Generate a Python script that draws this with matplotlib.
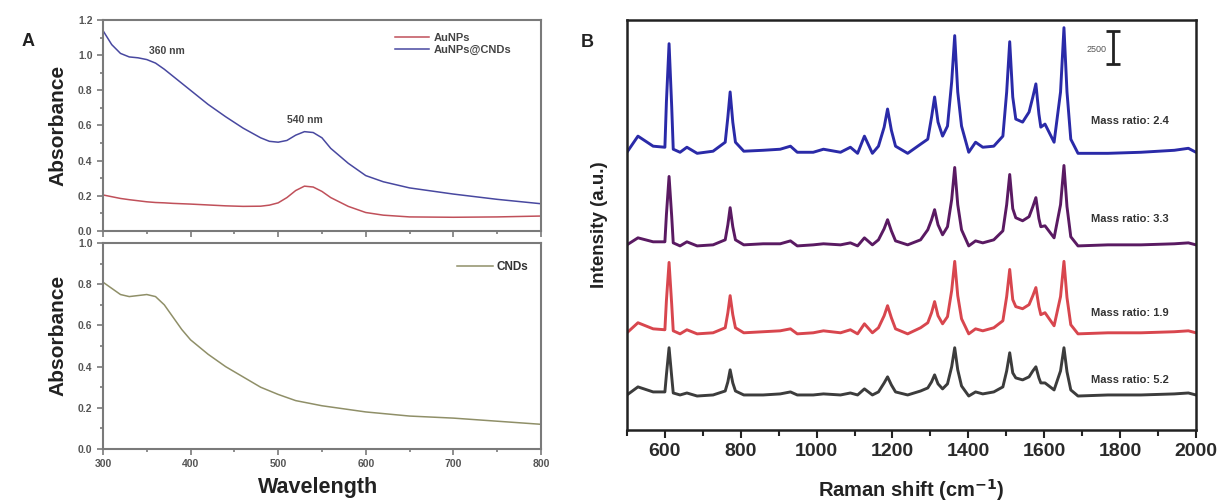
import matplotlib
matplotlib.use('Agg')
import matplotlib.pyplot as plt
from matplotlib.ticker import MultipleLocator

plt.rcParams['font.family'] = ['Liberation Sans', 'DejaVu Sans']

# ---- panel A: UV-vis ----
wl = [300, 310, 320, 330, 340, 350, 360, 370, 380, 390, 400, 420, 440, 460, 480,
      490, 500, 510, 520, 530, 540, 550, 560, 580, 600, 620, 650, 700, 750, 800]
aunps = [0.205, 0.195, 0.185, 0.178, 0.172, 0.166, 0.162, 0.160, 0.157, 0.155, 0.153,
         0.148, 0.143, 0.140, 0.141, 0.147, 0.160, 0.190, 0.230, 0.255, 0.250, 0.225,
         0.190, 0.140, 0.105, 0.090, 0.080, 0.078, 0.080, 0.085]
aunps_cnds = [1.14, 1.06, 1.01, 0.99, 0.985, 0.975, 0.955, 0.92, 0.88, 0.84, 0.80,
              0.72, 0.65, 0.585, 0.53, 0.51, 0.505, 0.515, 0.545, 0.565, 0.56, 0.53,
              0.47, 0.385, 0.315, 0.28, 0.245, 0.21, 0.18, 0.155]

wl_cnds = [300, 310, 320, 330, 340, 350, 360, 370, 380, 390, 400, 420, 440, 460, 480,
           500, 520, 550, 600, 650, 700, 750, 800]
cnds = [0.81, 0.78, 0.75, 0.74, 0.745, 0.75, 0.74, 0.70, 0.64, 0.58, 0.53, 0.46, 0.40,
        0.35, 0.30, 0.265, 0.235, 0.21, 0.18, 0.16, 0.15, 0.135, 0.12]

# ---- panel B: Raman (counts above each trace's own baseline) ----
shift = [500, 529, 569, 600, 604, 611, 618, 622, 640, 658, 685, 727, 759, 766, 772,
         779, 786, 808, 859, 904, 931, 949, 991, 1018, 1063, 1089, 1108, 1126, 1147,
         1163, 1178, 1187, 1197, 1208, 1240, 1274, 1293, 1303, 1311, 1320, 1332, 1345,
         1356, 1364, 1372, 1382, 1401, 1419, 1438, 1467, 1491, 1501, 1509, 1517, 1525,
         1543, 1560, 1570, 1578, 1586, 1591, 1602, 1626, 1643, 1652, 1660, 1670, 1689,
         1768, 1855, 1943, 1980, 2000]
ratio_24 = [0, 1220, 460, 380, 3800, 8210, 3420, 230, 0, 380, -80, 80, 760, 2660, 4560,
            2280, 760, 80, 150, 230, 460, 0, 0, 230, 0, 380, -80, 1220, -80, 460, 1900,
            3270, 1670, 460, -80, 610, 990, 2660, 4180, 2280, 1220, 1980, 5320, 8820,
            4560, 1980, 0, 760, 380, 460, 1220, 4560, 8360, 4180, 2510, 2280, 3040, 4180,
            5170, 2890, 1900, 2130, 760, 4560, 9420, 4560, 990, -80, -80, 0, 150, 300, 0]
ratio_33 = [0, 530, 230, 230, 2280, 5170, 2130, 150, -80, 230, -80, 0, 380, 1520, 2810,
            1370, 380, 0, 80, 80, 300, -80, 0, 80, 0, 150, -80, 530, 0, 380, 1220, 1900,
            1060, 300, 0, 380, 1140, 1900, 2660, 1520, 760, 1370, 3420, 5850, 3040, 1140,
            -80, 300, 150, 380, 1060, 3040, 5320, 2740, 2050, 1820, 2130, 2890, 3570, 1980,
            1370, 1440, 530, 3040, 6000, 2890, 610, -80, 0, 0, 80, 150, 0]
ratio_19 = [0, 760, 300, 230, 2430, 5320, 2130, 150, -80, 230, -80, 0, 380, 1520, 2810,
            1370, 380, 0, 80, 150, 300, -80, 0, 150, 0, 230, -80, 680, 0, 380, 1290, 2050,
            1140, 300, -80, 380, 760, 1520, 2360, 1290, 680, 1220, 3190, 5400, 2810, 1060,
            -80, 300, 150, 380, 910, 2740, 4790, 2510, 1980, 1820, 2130, 2810, 3420, 1980,
            1370, 1520, 530, 2740, 5400, 2660, 610, -80, 0, 0, 80, 150, 0]
ratio_52 = [0, 610, 230, 230, 1520, 3570, 1370, 150, 0, 150, -80, 0, 300, 990, 1900, 910,
            300, 0, 0, 80, 230, 0, 0, 80, 0, 150, 0, 460, 0, 230, 910, 1370, 760, 230, 0,
            300, 530, 990, 1520, 840, 460, 840, 2130, 3570, 1900, 680, -80, 230, 80, 230,
            610, 1820, 3190, 1670, 1290, 1140, 1370, 1820, 2130, 1290, 910, 910, 380, 1820,
            3570, 1750, 380, -80, 0, 0, 80, 150, 0]
labels = ['Mass ratio: 2.4', 'Mass ratio: 3.3', 'Mass ratio: 1.9', 'Mass ratio: 5.2']

fig = plt.figure(figsize=(12.2, 5.04), dpi=100)

tick_grey = '#555555'
spine_grey = '#7a7a7a'


def style_uv(ax):
    for s in ax.spines.values():
        s.set_color(spine_grey)
        s.set_linewidth(1.5)
    ax.set_xlim(300, 800)
    ax.xaxis.set_major_locator(MultipleLocator(100))
    ax.xaxis.set_minor_locator(MultipleLocator(50))
    ax.yaxis.set_major_locator(MultipleLocator(0.2))
    ax.yaxis.set_minor_locator(MultipleLocator(0.1))
    ax.tick_params(which='both', direction='out', color=spine_grey, width=1.2,
                   labelsize=7.5, labelcolor=tick_grey)
    ax.tick_params(which='major', length=4)
    ax.tick_params(which='minor', length=2)
    for t in ax.get_xticklabels() + ax.get_yticklabels():
        t.set_fontweight('bold')


ax1 = fig.add_axes([0.0844, 0.5417, 0.359, 0.4186])
ax1.plot(wl, aunps, color='#c0505a', lw=1.1, label='AuNPs')
ax1.plot(wl, aunps_cnds, color='#4848a0', lw=1.1, label='AuNPs@CNDs')
ax1.set_ylim(0, 1.2)
style_uv(ax1)
ax1.tick_params(axis='x', labelbottom=False)
ax1.set_yticks([0, 0.2, 0.4, 0.6, 0.8, 1.0, 1.2])
ax1.set_yticklabels(['0.0', '0.2', '0.4', '0.6', '0.8', '1.0', '1.2'], fontweight='bold')
leg = ax1.legend(loc='upper left', bbox_to_anchor=(0.645, 0.985), frameon=False,
                 handlelength=3.0, handletextpad=0.4, labelspacing=0.15,
                 prop={'size': 8, 'weight': 'bold'})
for t in leg.get_texts():
    t.set_color('#444444')
ax1.text(373, 1.025, '360 nm', ha='center', va='center', fontsize=7.5,
         fontweight='bold', color='#444444')
ax1.text(530, 0.63, '540 nm', ha='center', va='center', fontsize=7.5,
         fontweight='bold', color='#444444')
fig.text(0.0475, 0.752, 'Absorbance', rotation=90, ha='center', va='center',
         fontsize=15, fontweight='bold', color='#222222')

ax2 = fig.add_axes([0.0844, 0.1091, 0.359, 0.4087])
ax2.plot(wl_cnds, cnds, color='#8f8f68', lw=1.1, label='CNDs')
ax2.set_ylim(0, 1.0)
style_uv(ax2)
ax2.set_yticks([0, 0.2, 0.4, 0.6, 0.8, 1.0])
ax2.set_yticklabels(['0.0', '0.2', '0.4', '0.6', '0.8', '1.0'], fontweight='bold')
leg2 = ax2.legend(loc='upper left', bbox_to_anchor=(0.785, 0.965), frameon=False,
                  handlelength=3.0, handletextpad=0.3,
                  prop={'size': 8.5, 'weight': 'bold'})
for t in leg2.get_texts():
    t.set_color('#333333')
fig.text(0.0475, 0.335, 'Absorbance', rotation=90, ha='center', va='center',
         fontsize=15, fontweight='bold', color='#222222')
fig.text(0.261, 0.032, 'Wavelength', ha='center', va='center',
         fontsize=15.5, fontweight='bold', color='#222222')
fig.text(0.023, 0.917, 'A', ha='center', va='center', fontsize=13,
         fontweight='bold', color='#222222')

# ---- panel B ----
ax3 = fig.add_axes([0.5139, 0.1468, 0.4664, 0.8135])
series = [ratio_24, ratio_33, ratio_19, ratio_52]
colors = ['#2a2aa8', '#5a1a62', '#d8464e', '#3c3c3c']
offsets = [21000, 14000, 7350, 2650]
label_y = [23350, 15920, 8870, 3790]
for vals, c, off, lab, ly in zip(series, colors, offsets, labels, label_y):
    ax3.plot(shift, [v + off for v in vals], color=c, lw=2.1,
             solid_joinstyle='round')
    ax3.text(1723, ly, lab, ha='left', va='center', fontsize=8, fontweight='bold',
             color='#333333')

ax3.set_xlim(500, 2000)
ax3.set_ylim(0, 31000)
ax3.set_yticks([])
ax3.xaxis.set_major_locator(MultipleLocator(200))
ax3.xaxis.set_minor_locator(MultipleLocator(100))
ax3.set_xticks(range(600, 2001, 200))
ax3.tick_params(which='both', direction='out', width=1.5, color='#222222',
                labelsize=14, labelcolor='#2a2a2a')
ax3.tick_params(which='major', length=6)
ax3.tick_params(which='minor', length=4)
for t in ax3.get_xticklabels():
    t.set_fontweight('bold')
for s in ax3.spines.values():
    s.set_linewidth(1.8)
    s.set_color('#222222')
ax3.set_xlabel('Raman shift (cm$^{\\mathbf{-1}}$)', fontsize=14.5, fontweight='bold',
               color='#222222', labelpad=12)
ax3.set_ylabel('Intensity (a.u.)', fontsize=13.5, fontweight='bold',
               color='#222222', labelpad=14)

# 2500 counts scale bar
ax3.errorbar([1781], [28920], yerr=[1250], color='#222222', lw=2, capsize=5,
             capthick=2)
ax3.text(1765, 28800, '2500', ha='right', va='center', fontsize=6.5, color='#555555')
fig.text(0.481, 0.915, 'B', ha='center', va='center', fontsize=13,
         fontweight='bold', color='#222222')

fig.savefig('out.png', dpi=100)
